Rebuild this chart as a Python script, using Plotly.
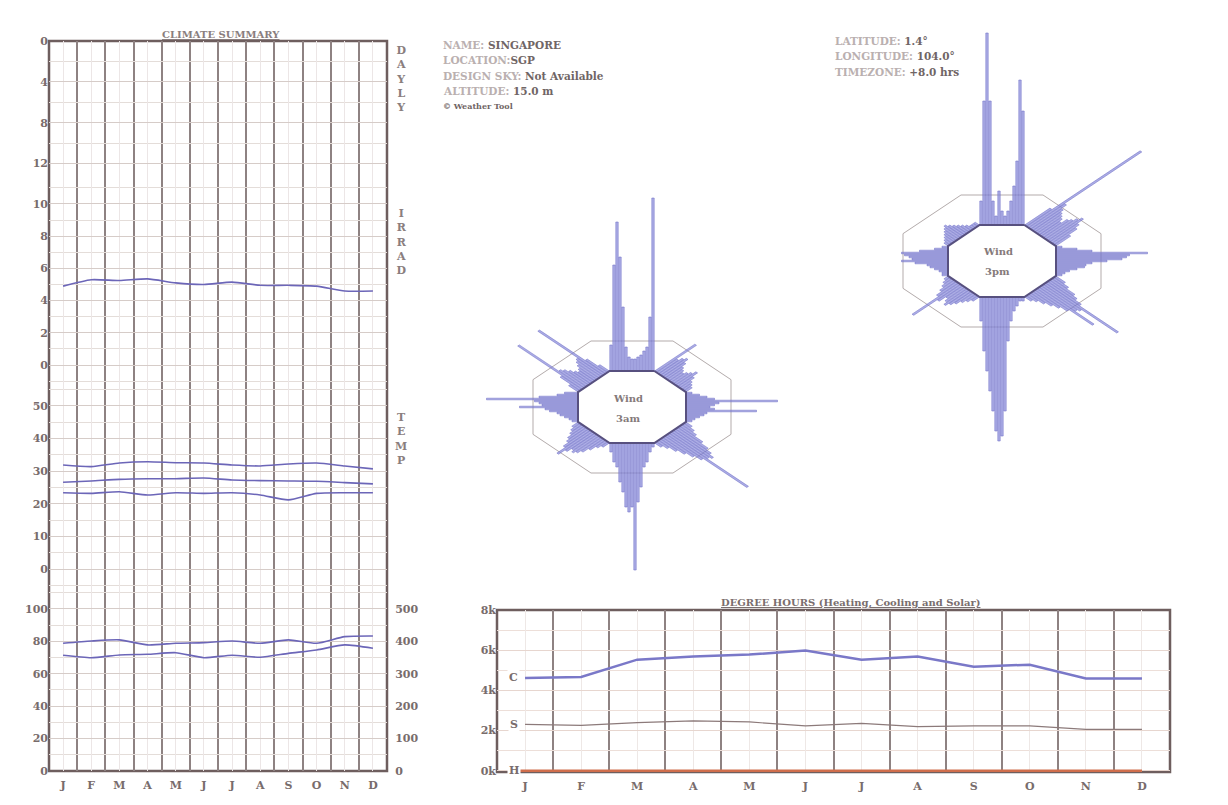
import numpy as np
import plotly.graph_objects as go

# ---------------- data ----------------
months = ["J", "F", "M", "A", "M", "J", "J", "A", "S", "O", "N", "D"]
irrad = [4.9, 5.3, 5.25, 5.35, 5.1, 5.0, 5.15, 4.95, 4.95, 4.9, 4.6, 4.6]
temp_max = [31.9, 31.4, 32.5, 32.9, 32.6, 32.5, 31.9, 31.6, 32.2, 32.5, 31.6, 30.7]
temp_mean = [26.6, 27.0, 27.5, 27.7, 27.7, 27.9, 27.3, 27.1, 27.0, 26.9, 26.5, 26.1]
temp_min = [23.4, 23.2, 23.7, 22.7, 23.4, 23.2, 23.4, 22.7, 21.2, 23.2, 23.4, 23.4]
rh_max = [78.8, 80.2, 80.9, 77.8, 78.8, 79.2, 80.2, 78.8, 80.9, 78.8, 82.9, 83.3]
rh_min = [71.4, 69.9, 71.6, 72.0, 73.0, 69.9, 71.4, 70.2, 72.6, 74.7, 77.8, 75.7]

dh_cooling = [4620, 4670, 5530, 5690, 5780, 5990, 5530, 5690, 5180, 5280, 4590, 4590]
dh_solar = [2310, 2260, 2400, 2480, 2430, 2230, 2360, 2200, 2230, 2230, 2060, 2060]
dh_heating = [0, 0, 0, 0, 0, 0, 0, 0, 0, 0, 0, 0]

daylt_ticks = [0, 4, 8, 12]
irrad_ticks = [0, 2, 4, 6, 8, 10]
temp_ticks = [0, 10, 20, 30, 40, 50]
rh_ticks = [0, 20, 40, 60, 80, 100]
rh2_ticks = [0, 100, 200, 300, 400, 500]
dh_ticks = [0, 2000, 4000, 6000, 8000]
dh_ticktext = ["0k", "2k", "4k", "6k", "8k"]

# wind rose bar lengths (15 lateral slots per direction)
wind_dirs = [0, 45, 90, 135, 180, 225, 270, 315]
wind_3am_N = [62, 142, 185, 150, 100, 60, 50, 48, 48, 50, 52, 56, 60, 90, 209]
wind_3am_NE = [74, 55, 58, 60, 56, 52, 50, 48, 50, 52, 55, 50, 46, 44, 42]
wind_3am_E = [40, 45, 50, 55, 97, 58, 55, 52, 55, 83, 50, 48, 45, 42, 40]
wind_3am_SE = [42, 46, 50, 58, 65, 70, 74, 72, 111, 70, 64, 58, 52, 46, 42]
wind_3am_S = [40, 45, 55, 60, 80, 95, 163, 100, 105, 100, 85, 75, 60, 55, 45]
wind_3am_SW = [42, 45, 50, 55, 58, 60, 58, 62, 68, 60, 55, 52, 48, 45, 42]
wind_3am_W = [40, 42, 45, 48, 50, 55, 58, 75, 60, 62, 65, 97, 62, 50, 45]
wind_3am_NW = [45, 55, 97, 60, 58, 55, 52, 50, 52, 55, 58, 60, 98, 55, 45]

wind_3pm_N = [60, 160, 228, 160, 60, 45, 70, 50, 45, 50, 60, 75, 100, 181, 150]
wind_3pm_NE = [60, 143, 70, 65, 62, 60, 58, 55, 60, 62, 65, 68, 62, 58, 50]
wind_3pm_E = [40, 50, 60, 97, 85, 83, 80, 70, 60, 56, 55, 50, 45, 42, 40]
wind_3pm_SE = [45, 50, 58, 62, 68, 105, 72, 70, 88, 66, 60, 55, 50, 45, 42]
wind_3pm_S = [40, 40, 45, 50, 60, 80, 150, 175, 180, 170, 150, 130, 110, 90, 60]
wind_3pm_SW = [42, 45, 48, 52, 55, 58, 55, 52, 58, 80, 55, 50, 46, 43, 40]
wind_3pm_W = [40, 40, 42, 45, 48, 50, 58, 67, 60, 62, 65, 67, 55, 45, 40]
wind_3pm_NW = [40, 42, 44, 46, 48, 50, 52, 50, 48, 46, 44, 42, 40, 40, 40]

# ---------------- layout helpers ----------------
W, H, OFF = 1212, 789, 8


def fx(p):
    return (p - OFF) / W


def fy(p):
    return 1 - (p - OFF) / H


SERIF = "DejaVu Serif"
TXT = "#786c6c"
LIGHT = "#bab0b0"
LINEC = "#6c66b8"
MONTHGRID = "#8e8282"
CLEAR = "rgba(0,0,0,0)"

xc = [i + 0.5 for i in range(12)]

fig = go.Figure()

# placeholders so the daylight panel and the right-hand scale are drawn
fig.add_trace(go.Scatter(x=[0.5], y=[0], xaxis="x", yaxis="y", mode="markers",
                         marker=dict(opacity=0), hoverinfo="skip"))
fig.add_trace(go.Scatter(x=[0.5], y=[0], xaxis="x", yaxis="y5", mode="markers",
                         marker=dict(opacity=0), hoverinfo="skip"))

# ---------------- climate summary lines ----------------
fig.add_trace(go.Scatter(x=xc, y=irrad, xaxis="x", yaxis="y2", mode="lines",
                         line=dict(color=LINEC, width=1.6, shape="spline", smoothing=0.6)))
for series in (temp_max, temp_mean, temp_min):
    fig.add_trace(go.Scatter(x=xc, y=series, xaxis="x", yaxis="y3", mode="lines",
                             line=dict(color=LINEC, width=1.6, shape="spline", smoothing=0.6)))
for series in (rh_max, rh_min):
    fig.add_trace(go.Scatter(x=xc, y=series, xaxis="x", yaxis="y4", mode="lines",
                             line=dict(color=LINEC, width=1.6, shape="spline", smoothing=0.6)))

# ---------------- degree hours ----------------
fig.add_trace(go.Scatter(x=xc, y=dh_cooling, xaxis="x2", yaxis="y6", mode="lines",
                         line=dict(color="#7a78c8", width=2.5)))
fig.add_trace(go.Scatter(x=xc, y=dh_solar, xaxis="x2", yaxis="y6", mode="lines",
                         line=dict(color="#8c7a7a", width=1.2)))
fig.add_trace(go.Scatter(x=[0.35] + xc, y=[dh_heating[0]] + dh_heating, xaxis="x2", yaxis="y6",
                         mode="lines", line=dict(color="#d06e4c", width=2.5)))


# ---------------- wind roses ----------------
def octagon(apothem):
    R = apothem / np.cos(np.pi / 8)
    angs = np.radians(22.5 + 45 * np.arange(9))
    return list(R * np.sin(angs)), list(R * np.cos(angs))


def rose(lengths_by_dir, xa, ya, hour):
    lat = np.arange(-14, 15, 2)
    hw = 0.8
    ox, oy = octagon(66)
    fig.add_trace(go.Scatter(x=ox, y=oy, xaxis=xa, yaxis=ya, mode="lines",
                             line=dict(color="#b3abab", width=1)))
    xs, ys = [], []
    for th_deg, Ls in zip(wind_dirs, lengths_by_dir):
        th = np.radians(th_deg)
        d = np.array([np.sin(th), np.cos(th)])
        p = np.array([np.cos(th), -np.sin(th)])
        for l, L in zip(lat, Ls):
            for a, b in [(0, l - hw), (L, l - hw), (L, l + hw), (0, l + hw), (0, l - hw)]:
                pt = a * d + b * p
                xs.append(pt[0])
                ys.append(pt[1])
            xs.append(None)
            ys.append(None)
    fig.add_trace(go.Scatter(x=xs, y=ys, xaxis=xa, yaxis=ya, mode="lines", fill="toself",
                             fillcolor="rgba(134,136,216,0.68)",
                             line=dict(color="rgba(110,110,200,0.9)", width=0.6)))
    ix, iy = octagon(36)
    fig.add_trace(go.Scatter(x=ix, y=iy, xaxis=xa, yaxis=ya, mode="lines", fill="toself",
                             fillcolor="white", line=dict(color="#57507f", width=2)))
    for txt, yy in (("Wind", 9), (hour, -11)):
        fig.add_annotation(x=-3, y=yy, xref=xa, yref=ya, text="<b>" + txt + "</b>", showarrow=False,
                           font=dict(family=SERIF, size=10, color="#857a7a"))


rose([wind_3am_N, wind_3am_NE, wind_3am_E, wind_3am_SE, wind_3am_S, wind_3am_SW, wind_3am_W, wind_3am_NW],
     "x3", "y7", "3am")
rose([wind_3pm_N, wind_3pm_NE, wind_3pm_E, wind_3pm_SE, wind_3pm_S, wind_3pm_SW, wind_3pm_W, wind_3pm_NW],
     "x4", "y8", "3pm")

# ---------------- axes ----------------
tickfont = dict(family=SERIF, size=11, color=TXT, weight="bold")
ygrid = dict(showgrid=True, gridcolor="#d6ccc8", gridwidth=1, zeroline=False, showline=False,
             ticks="", tickfont=tickfont, anchor="x", tickmode="array", automargin=False)
ymin = dict(showgrid=True, gridcolor="#e4ddd9", gridwidth=1)

layout = dict(
    width=W, height=H, margin=dict(l=0, r=0, t=0, b=0, autoexpand=False),
    paper_bgcolor="white", plot_bgcolor="rgba(0,0,0,0)", showlegend=False,
    xaxis=dict(domain=[fx(49), fx(387)], range=[0, 12], anchor="y4", tickmode="array",
               tickvals=xc, ticktext=months, showgrid=True, gridcolor="#ece6e6", zeroline=False,
               ticks="outside", ticklen=4, tickcolor=CLEAR, tickfont=tickfont, automargin=False,
               minor=dict(tickmode="array", tickvals=list(range(1, 12)), showgrid=True,
                          gridcolor=MONTHGRID, gridwidth=2, ticks="")),
    yaxis=dict(domain=[fy(184), fy(41)], range=[14, 0], tickvals=daylt_ticks,
               minor=dict(dtick=2, tick0=0, **ymin), **ygrid),
    yaxis2=dict(domain=[fy(386), fy(184)], range=[-1.3, 11.24], tickvals=irrad_ticks,
                minor=dict(dtick=1, tick0=0, **ymin), **ygrid),
    yaxis3=dict(domain=[fy(589), fy(386)], range=[-6.1, 56.1], tickvals=temp_ticks,
                minor=dict(dtick=5, tick0=0, **ymin), **ygrid),
    yaxis4=dict(domain=[fy(771), fy(589)], range=[0, 112.3], tickvals=rh_ticks,
                minor=dict(dtick=10, tick0=0, **ymin), **ygrid),
    yaxis5=dict(overlaying="y4", side="right", anchor="x", range=[0, 561.5], tickmode="array",
                tickvals=rh2_ticks, showgrid=False, zeroline=False, ticks="outside", ticklen=5,
                tickcolor=CLEAR, tickfont=tickfont, automargin=False),
    xaxis2=dict(domain=[fx(497), fx(1170)], range=[0, 12], anchor="y6", tickmode="array",
                tickvals=xc, ticktext=months, showgrid=True, gridcolor="#eee8e6", zeroline=False,
                ticks="outside", ticklen=4, tickcolor=CLEAR, tickfont=tickfont, automargin=False,
                minor=dict(tickmode="array", tickvals=list(range(1, 12)), showgrid=True,
                           gridcolor=MONTHGRID, gridwidth=1.6, ticks="")),
    yaxis6=dict(domain=[fy(772), fy(610)], range=[-60, 8000], anchor="x2", tickmode="array",
                tickvals=dh_ticks, ticktext=dh_ticktext, showgrid=True, gridcolor="#e7d6cf",
                zeroline=False, ticks="", tickfont=tickfont, automargin=False,
                minor=dict(dtick=1000, tick0=0, showgrid=True, gridcolor="#eddfd9")),
    xaxis3=dict(domain=[fx(452), fx(812)], range=[-120, 120], anchor="y7", visible=False,
                automargin=False),
    yaxis7=dict(domain=[fy(647), fy(167)], range=[-240, 240], anchor="x3", visible=False,
                automargin=False),
    xaxis4=dict(domain=[fx(822), fx(1182)], range=[-120, 120], anchor="y8", visible=False,
                automargin=False),
    yaxis8=dict(domain=[fy(501), fy(21)], range=[-240, 240], anchor="x4", visible=False,
                automargin=False),
)
fig.update_layout(**layout)

# frames
fig.add_shape(type="rect", xref="paper", yref="paper", x0=fx(49), x1=fx(387), y0=fy(771), y1=fy(41),
              line=dict(color="#6e5e5e", width=2.5), layer="between")
fig.add_shape(type="rect", xref="paper", yref="paper", x0=fx(497), x1=fx(1170), y0=fy(772), y1=fy(610),
              line=dict(color="#6e5e5e", width=2.5), layer="between")


# texts
def ann(x, y, text, size=10, color=TXT, xanchor="left", yanchor="middle"):
    fig.add_annotation(x=fx(x), y=fy(y), xref="paper", yref="paper", text=text, showarrow=False,
                       xanchor=xanchor, yanchor=yanchor, align="center",
                       font=dict(family=SERIF, size=size, color=color))


ann(221, 34, "<b><u>CLIMATE SUMMARY</u></b>", size=10, color="#8a7e7e", xanchor="center")
ann(401, 79, "<b>D<br>A<br>Y<br>L<br>Y</b>", size=11, color="#8a7e7e", xanchor="center")
ann(401, 242, "<b>I<br>R<br>R<br>A<br>D</b>", size=11, color="#8a7e7e", xanchor="center")
ann(401, 439, "<b>T<br>E<br>M<br>P</b>", size=11, color="#8a7e7e", xanchor="center")
ann(850, 603, "<b><u>DEGREE HOURS (Heating, Cooling and Solar)</u></b>", size=10, color="#7a6e6e",
    xanchor="center")

info_mid = [("NAME: ", "SINGAPORE"), ("LOCATION:", "SGP"), ("DESIGN SKY: ", "Not Available"),
            ("ALTITUDE: ", "15.0 m")]
for i, (lab, val) in enumerate(info_mid):
    ann(441, 45 + 15.3 * i,
        "<b><span style='color:%s'>%s</span><span style='color:#706565'>%s</span></b>" % (LIGHT, lab, val),
        size=10.5)
ann(441, 106, "<b>© Weather Tool</b>", size=8, color="#706565")

info_right = [("LATITUDE: ", "1.4°"), ("LONGITUDE: ", "104.0°"), ("TIMEZONE: ", "+8.0 hrs")]
for i, (lab, val) in enumerate(info_right):
    ann(833, 41 + 15.3 * i,
        "<b><span style='color:%s'>%s</span><span style='color:#706565'>%s</span></b>" % (LIGHT, lab, val),
        size=10.5)

for lab, val in (("C", dh_cooling[0]), ("S", dh_solar[0]), ("H", dh_heating[0])):
    fig.add_annotation(x=0.3, y=val, xref="x2", yref="y6", text="<b>%s</b>" % lab, showarrow=False,
                       font=dict(family=SERIF, size=11, color=TXT), bgcolor="white")

fig.write_html("out.html")
